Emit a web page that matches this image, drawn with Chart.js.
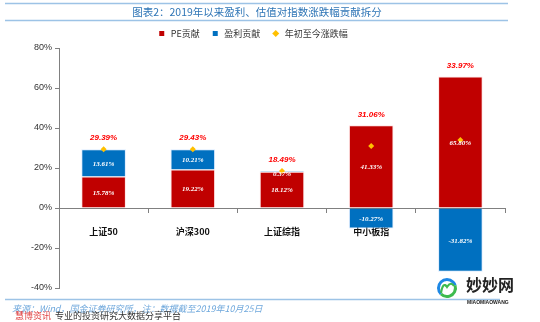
<!DOCTYPE html>
<html>
<head>
<meta charset="utf-8">
<script src="https://cdn.jsdelivr.net/npm/chart.js@4.4.1/dist/chart.umd.min.js"></script>
<style>
  html, body { margin: 0; padding: 0; background: #fff; }
  #wrap { width: 540px; height: 322px; position: relative; }
</style>
</head>
<body>
<div id="wrap"><canvas id="chart" width="540" height="322"></canvas></div>
<script>
// Data
const categories = ['上证50', '沪深300', '上证综指', '中小板指', '创业板指'];
const peContrib = [15.78, 19.22, 18.12, 41.33, 65.80];
const profitContrib = [13.61, 10.21, 0.37, -10.27, -31.82];
const ytdChange = [29.39, 29.43, 18.49, 31.06, 33.97];
const yTicks = [-40, -20, 0, 20, 40, 60, 80];

const RED = '#C00000', BLUE = '#0070C0', GOLD = '#FFC000';
const CJK = '"Noto Sans CJK SC", sans-serif';

// title, lines, footer, logo
const decorPlugin = {
    id: 'decor',
    beforeDraw(chart) {
        const c = chart.ctx;
        c.save();
        c.strokeStyle = '#9DC3E6';
        c.lineWidth = 1.5;
        [3.5, 20.5, 299.5].forEach(y => {
            c.beginPath(); c.moveTo(5, y); c.lineTo(y > 100 ? 500 : 508, y); c.stroke();
        });
        c.fillStyle = '#2E75B6';
        c.font = '10.5px ' + CJK;
        c.textAlign = 'center';
        c.textBaseline = 'middle';
        c.fillText('图表2：2019年以来盈利、估值对指数涨跌幅贡献拆分', 257, 12.5);
        c.restore();
    },
    afterDraw(chart) {
        const c = chart.ctx;
        c.save();
        c.textBaseline = 'middle';
        c.textAlign = 'left';
        c.font = 'italic 9px ' + CJK;
        c.fillStyle = '#6FA8DC';
        c.fillText('来源：Wind，国金证券研究所，注：数据截至2019年10月25日', 12, 309);
        c.font = '9px ' + CJK;
        c.fillStyle = '#E04040';
        c.fillText('慧博资讯', 15, 316);
        c.fillStyle = '#333';
        c.fillText('专业的投资研究大数据分享平台', 55, 316);
        // logo
        c.lineWidth = 3;
        c.strokeStyle = '#1E88E5';
        c.beginPath(); c.arc(447, 288, 8.5, Math.PI * 0.75, Math.PI * 1.9); c.stroke();
        c.strokeStyle = '#3DBB4E';
        c.beginPath(); c.arc(447, 288, 8.5, Math.PI * -0.1, Math.PI * 0.75); c.stroke();
        c.lineWidth = 2.2;
        c.beginPath();
        c.moveTo(441, 293); c.quadraticCurveTo(443, 281, 447, 287);
        c.quadraticCurveTo(451, 281, 454, 286);
        c.stroke();
        c.fillStyle = '#222';
        c.font = 'bold 16px ' + CJK;
        c.fillText('妙妙网', 466, 285);
        c.font = 'bold 5px "Liberation Sans", sans-serif';
        c.fillText('MIAOMIAOWANG', 467, 303);
        c.restore();
    }
};

// value labels
const labelPlugin = {
    id: 'valueLabels',
    afterDatasetsDraw(chart) {
        const c = chart.ctx;
        const y = chart.scales.y;
        c.save();
        c.textAlign = 'center';
        c.textBaseline = 'middle';
        c.font = 'italic bold 7px "Liberation Serif", serif';
        c.fillStyle = '#fff';
        [0, 1].forEach(di => {
            chart.getDatasetMeta(di).data.forEach((bar, i) => {
                const v = chart.data.datasets[di].data[i];
                const shift = Math.abs(bar.base - bar.y) < 6 ? 3 : 1;
                c.fillText(v.toFixed(2) + '%', bar.x, (bar.y + bar.base) / 2 + shift);
            });
        });
        c.font = 'italic bold 8px "Liberation Sans", sans-serif';
        c.fillStyle = '#FF0000';
        chart.getDatasetMeta(0).data.forEach((bar, i) => {
            const top = Math.max(peContrib[i], 0) + Math.max(profitContrib[i], 0);
            c.fillText(ytdChange[i].toFixed(2) + '%', bar.x, y.getPixelForValue(top) - 11);
        });
        c.restore();
    }
};

new Chart(document.getElementById('chart'), {
    type: 'bar',
    data: {
        labels: categories,
        datasets: [
            { label: 'PE贡献', data: peContrib, backgroundColor: RED, borderColor: 'rgba(255,220,220,0.8)', borderWidth: 1, stack: 's', order: 1 },
            { label: '盈利贡献', data: profitContrib, backgroundColor: BLUE, borderColor: 'rgba(210,230,255,0.8)', borderWidth: 1, stack: 's', order: 1 },
            { type: 'line', label: '年初至今涨跌幅', data: ytdChange, showLine: false, backgroundColor: GOLD, borderColor: GOLD,
              pointStyle: 'rectRot', pointRadius: 3, pointBorderWidth: 0, stack: 't', order: 0 }
        ]
    },
    options: {
        responsive: false,
        animation: false,
        layout: { padding: { top: 18, left: 0, right: 35, bottom: 34 } },
        datasets: { bar: { barPercentage: 0.5, categoryPercentage: 1 } },
        plugins: {
            title: { display: false },
            tooltip: { enabled: false },
            legend: {
                position: 'top',
                labels: {
                    color: '#333',
                    font: { size: 9, family: CJK },
                    usePointStyle: true,
                    boxHeight: 5,
                    padding: 11,
                    generateLabels: chart => chart.data.datasets.map((ds, i) => ({
                        text: ds.label,
                        fillStyle: ds.backgroundColor,
                        strokeStyle: ds.backgroundColor,
                        lineWidth: 0,
                        pointStyle: i === 2 ? 'rectRot' : 'rect',
                        datasetIndex: i,
                        hidden: false,
                        fontColor: '#333'
                    }))
                }
            }
        },
        scales: {
            x: {
                position: { y: 0 },
                stacked: true,
                z: 1,
                border: { display: true, color: '#808080', width: 1 },
                grid: { drawOnChartArea: false, drawTicks: true, tickLength: 4, color: '#808080', offset: true },
                ticks: { color: '#111', padding: 14, font: { size: 9, weight: 'bold', family: CJK } }
            },
            y: {
                stacked: true,
                min: -40,
                max: 80,
                afterFit: s => { s.width = 59; },
                afterBuildTicks: s => { s.ticks = yTicks.map(v => ({ value: v })); },
                border: { display: true, color: '#808080', width: 1 },
                grid: { drawOnChartArea: false, drawTicks: true, tickLength: 4, color: '#808080' },
                ticks: { color: '#333', padding: 3, font: { size: 9, family: '"Liberation Sans", sans-serif' }, callback: v => v + '%' }
            }
        }
    },
    plugins: [decorPlugin, labelPlugin]
});
</script>
</body>
</html>
